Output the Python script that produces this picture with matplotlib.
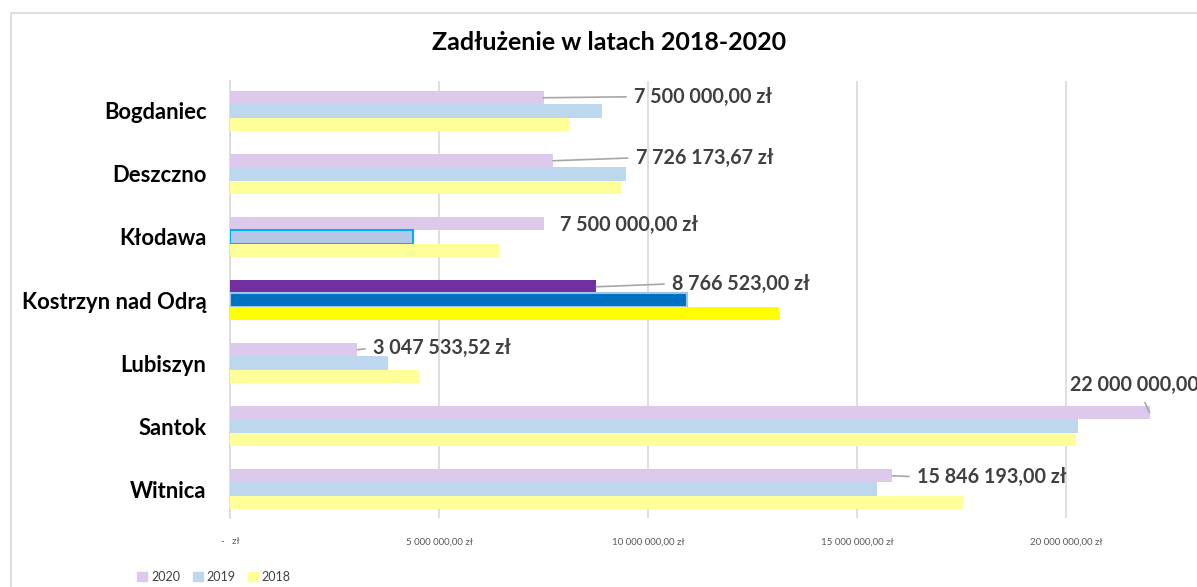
import matplotlib
matplotlib.use("Agg")
import matplotlib.pyplot as plt
from matplotlib.patches import Rectangle, Patch
from matplotlib.ticker import FuncFormatter, MultipleLocator
import numpy as np

plt.rcParams['font.family'] = ['Lato', 'DejaVu Sans']

gminy = ["Bogdaniec", "Deszczno", "Kłodawa", "Kostrzyn nad Odrą", "Lubiszyn", "Santok", "Witnica"]
lata = ["2020", "2019", "2018"]
dlug_2020 = [7500000.00, 7726173.67, 7500000.00, 8766523.00, 3047533.52, 22000000.00, 15846193.00]
dlug_2019 = [8900000, 9470000, 4380000, 10930000, 3780000, 20290000, 15480000]
dlug_2018 = [8100000, 9350000, 6440000, 13130000, 4520000, 20240000, 17540000]
etykiety = ["7 500 000,00 zł", "7 726 173,67 zł", "7 500 000,00 zł", "8 766 523,00 zł",
            "3 047 533,52 zł", "22 000 000,00 zł", "15 846 193,00 zł"]

# styles
kol_2020 = ["#DDC9EC"] * 7
kol_2019 = ["#BDD7EE"] * 7
kol_2018 = ["#FFFF99"] * 7
kol_2020[3], kol_2019[3], kol_2018[3] = "#7030A0", "#0070C0", "#FFFF00"
kol_2019[2] = "#B4C7E7"
kraw_2019 = ["none"] * 7
kraw_2019[2] = "#00B0F0"
kraw_2019[3] = "#9DC3E6"

# label offsets from end of 2020 bar (pixels), and whether leader line is drawn
off = [(91, 1), (83, 3), (17, -1), (76, 3), (16, 2), (-80, 28), (25, -1)]
linia = [True, True, False, True, True, True, True]

fig = plt.figure(figsize=(11.97, 5.87), dpi=100)
ax = fig.add_axes([230/1197, 1-518/587, 1-230/1197, 437/587])

# chart frame
fig.patches.append(Rectangle((11/1197, -0.1), 1.2, (587-13)/587 + 0.1, transform=fig.transFigure,
                             fill=False, edgecolor="#D9D9D9", lw=1.2, zorder=0))

y = np.arange(len(gminy))
h = 0.21
ax.barh(y - h, dlug_2020, height=h, color=kol_2020, zorder=3)
ax.barh(y, dlug_2019, height=h, color=kol_2019, edgecolor=kraw_2019, lw=1.5, zorder=3)
ax.barh(y + h, dlug_2018, height=h, color=kol_2018, zorder=3)

for i in range(len(gminy)):
    props = dict(arrowstyle="-", color="#A6A6A6", lw=1.2, shrinkA=4, shrinkB=0,
                 relpos=(0, 0.5) if off[i][0] > 0 else (0.48, 0.0)) if linia[i] else None
    ax.annotate(etykiety[i], xy=(dlug_2020[i], y[i] - h), xytext=off[i], textcoords="offset pixels",
                ha="left", va="center", fontsize=14.2, fontweight="bold", color="#404040",
                arrowprops=props, annotation_clip=False)

ax.set_xlim(0, (1197 - 230) / 41.8 * 1e6)
ax.set_ylim(len(gminy) - 1 + 0.46, -0.476)
ax.set_yticks(y)
ax.set_yticklabels(gminy, fontsize=15.8, fontweight="bold", color="black")
ax.xaxis.set_major_locator(MultipleLocator(5e6))

def zl(v, pos):
    if v == 0:
        return "-   zł"
    return "{:,.2f} zł".format(v).replace(",", " ").replace(".", ",")

ax.xaxis.set_major_formatter(FuncFormatter(zl))
ax.tick_params(axis="x", length=0, pad=14, labelsize=7, labelcolor="#595959")
ax.tick_params(axis="y", length=0, pad=17)
ax.grid(axis="x", color="#D9D9D9", lw=1.2, zorder=0)
for s in ["top", "right", "bottom"]:
    ax.spines[s].set_visible(False)
ax.spines["left"].set_color("#D9D9D9")
ax.spines["left"].set_linewidth(1.2)

fig.text(609/1197, 1-43/587, "Zadłużenie w latach 2018-2020", ha="center", va="center",
         fontsize=18, fontweight="bold", color="black")

uchwyty = [Patch(color=kol_2020[0]), Patch(color=kol_2019[0]), Patch(color=kol_2018[0])]
fig.legend(uchwyty, lata, loc="center left", bbox_to_anchor=(126/1197, 1-577/587), ncol=3,
           frameon=False, fontsize=9, handlelength=0.8, handleheight=0.8, handletextpad=0.3,
           columnspacing=1.0, labelcolor="#404040")

fig.savefig("out.png", dpi=100)
